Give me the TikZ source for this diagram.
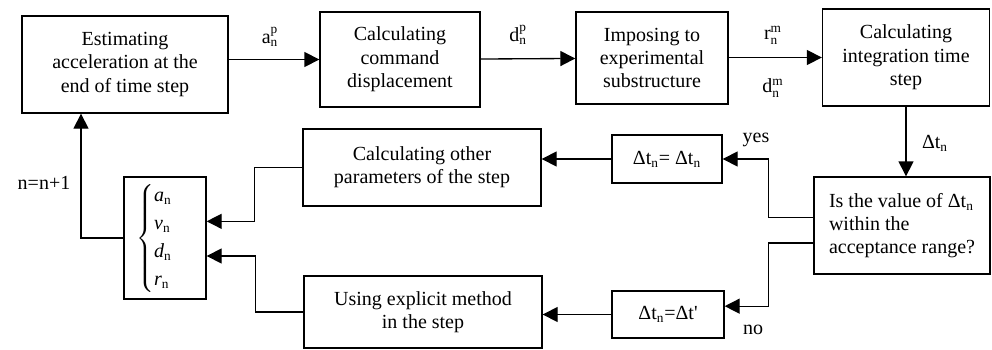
\documentclass[tikz,border=0pt]{standalone}
\usepackage{fontspec}
\setmainfont{Liberation Serif}
\newfontfamily\timesfont{Liberation Serif}
\renewcommand{\familydefault}{\rmdefault}
\usepackage{amsmath}
\usetikzlibrary{arrows.meta}

\newcommand{\itn}[1]{\text{\itshape #1}_{\text{n}}}

\begin{document}
\begin{tikzpicture}[x=0.6pt,y=-0.6pt,
    font=\timesfont\fontsize{12pt}{14pt}\selectfont,
    block/.style ={draw, line width=0.8pt, align=center, inner sep=2pt},
    flow/.style ={line width=0.8pt, -{Triangle[length=9pt,width=9pt]}},
    tag/.style ={inner sep=1pt}]
   \useasboundingbox (0,0) rectangle (992,349);

   \node[block, minimum width=206*0.6pt, minimum height=97*0.6pt] (A) at (125,64.5)
      {Estimating\\acceleration at the\\end of time step};
   \node[block, minimum width=160*0.6pt, minimum height=95*0.6pt] (B) at (400,59.5)
      {Calculating\\command\\displacement};
   \node[block, minimum width=152*0.6pt, minimum height=92*0.6pt] (C) at (652,58)
      {Imposing to\\experimental\\substructure};
   \node[block, minimum width=167*0.6pt, minimum height=97*0.6pt] (D) at (906,57.5)
      {Calculating\\integration time\\step};
   \node[block, align=left, minimum width=176*0.6pt, minimum height=97*0.6pt] (E) at (902,225.5)
      {Is the value of Δt\textsubscript{n}\\within the\\acceptance range?};
   \node[block, minimum width=110*0.6pt, minimum height=48*0.6pt] (F) at (667,159)
      {Δt\textsubscript{n}= Δt\textsubscript{n}};
   \node[block, minimum width=112*0.6pt, minimum height=47*0.6pt] (G) at (668,314.5)
      {Δt\textsubscript{n}=Δt'};
   \node[block, minimum width=238*0.6pt, minimum height=77*0.6pt] (H) at (422,167.5)
      {Calculating other\\parameters of the step};
   \node[block, minimum width=238*0.6pt, minimum height=72*0.6pt] (I) at (423,312)
      {Using explicit method\\in the step};
   \node[block, minimum width=82*0.6pt, minimum height=122*0.6pt] (J) at (165,238)
      {$\begin{cases}\itn{a}\\ \itn{v}\\ \itn{d}\\ \itn{r}\end{cases}$};

   % labels on the connectors
   \node[tag] (ap) at (270,37)  {a$^{\text{p}}_{\text{n}}$};
   \node[tag] (dp) at (518,35)  {d$^{\text{p}}_{\text{n}}$};
   \node[tag] (rm) at (773,35)  {r$^{\text{m}}_{\text{n}}$};
   \node[tag] (dm) at (773,88)  {d$^{\text{m}}_{\text{n}}$};
   \node[tag] (dt) at (935,143) {Δt\textsubscript{n}};
   \node[tag] (yes) at (756,140) {yes};
   \node[tag] (no) at (753,330) {no};
   \node[tag] (nn) at (44,183)  {n=n+1};

   \draw[flow] (A.east |- B) to (B);
   \draw[flow] (B) to (C);
   \draw[flow] (C.east |- D) to (D);
   \draw[flow] (D.south) to (D.south |- E.north);
   \draw[flow] ([yshift=5pt]E.west) -- ++(-45,0) |- (F.east);
   \draw[flow] ([yshift=-10.5pt]E.west) -- ++(-45,0) |- ([yshift=5pt]G.east);
   \draw[flow] (F.west) to (F.west -| H.east);
   \draw[flow] (G.west) to (G.west -| I.east);
   \draw[flow] (H.west) -- ++(-48,0) |- ([yshift=10pt]J.east);
   \draw[flow] (I.west) -- ++(-48,0) |- ([yshift=-10.8pt]J.east);
   \draw[flow] (J.west) -| ([xshift=-26.4pt]A.south);
 \end{tikzpicture}
\end{document}
